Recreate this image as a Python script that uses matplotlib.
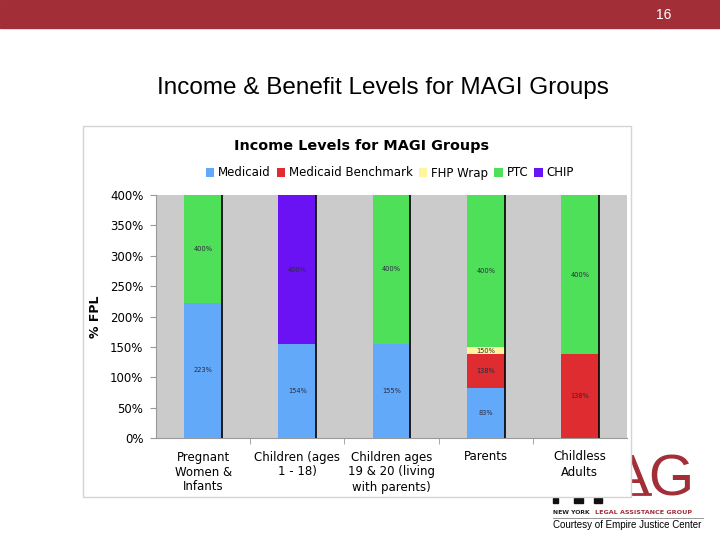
import numpy as np
import matplotlib
matplotlib.use("Agg")
import matplotlib.pyplot as plt
from matplotlib.patches import Rectangle

# Данные графика (% FPL)
categories = ["Pregnant\nWomen &\nInfants", "Children (ages\n1 - 18)",
              "Children ages\n19 & 20 (living\nwith parents)", "Parents",
              "Childless\nAdults"]
series_names = ["Medicaid", "Medicaid Benchmark", "FHP Wrap", "PTC", "CHIP"]
medicaid = [223, 154, 155, 83, 0]
benchmark = [0, 0, 0, 55, 138]
fhp_wrap = [0, 0, 0, 12, 0]
ptc = [177, 0, 245, 250, 262]
chip = [0, 246, 0, 0, 0]
y_ticks = [0, 50, 100, 150, 200, 250, 300, 350, 400]

colors = ["#63A9FA", "#DE2C30", "#FFF59C", "#4FE05A", "#6A12F4"]
slide_red = "#A22E38"

fig = plt.figure(figsize=(7.2, 5.4), dpi=100)

# Фон слайда (координаты в пикселях)
bg = fig.add_axes([0, 0, 1, 1])
bg.set_xlim(0, 720)
bg.set_ylim(540, 0)
bg.axis("off")
bg.add_patch(Rectangle((0, 0), 720, 28, color=slide_red, zorder=1))
bg.text(664, 15, "16", color="white", fontsize=10, fontfamily="Liberation Sans",
        ha="center", va="center", zorder=2)
bg.text(383, 88, "Income & Benefit Levels for MAGI Groups", fontsize=17.5,
        fontfamily="Liberation Sans", ha="center", va="center", zorder=2)

# Логотип NYLAG (буквы NY почти скрыты рамкой графика)
for x0, w in [(553, 5), (574, 9), (594, 8)]:
    bg.add_patch(Rectangle((x0, 498), w, 5, color="#111111", zorder=1))
bg.text(611, 496, "AG", fontsize=42, color=slide_red,
        fontfamily="Liberation Sans", ha="left", va="baseline", zorder=1)
bg.plot([613, 650], [494, 494], color=slide_red, lw=2, zorder=1)
bg.text(553, 512, "NEW YORK", fontsize=4.4, fontweight="bold", color="#222222",
        fontfamily="DejaVu Sans", ha="left", va="center", zorder=2)
bg.text(595, 512, "LEGAL ASSISTANCE GROUP", fontsize=4.6, fontweight="bold",
        color=slide_red, fontfamily="DejaVu Sans", ha="left", va="center", zorder=2)
bg.plot([553, 703], [518, 518], color="#888888", lw=0.6, zorder=2)
bg.text(553, 525, "Courtesy of Empire Justice Center", fontsize=7,
        fontfamily="Liberation Sans", ha="left", va="center", zorder=2)

# Рамка встроенного графика
bg.add_patch(Rectangle((83, 126), 548, 371, facecolor="white",
                       edgecolor="#D4D4D4", lw=1, zorder=3))
bg.text(361, 146, "Income Levels for MAGI Groups", fontsize=10.4,
        fontweight="bold", fontfamily="DejaVu Sans", ha="center", va="center",
        zorder=4)

# Основной график
ax = fig.add_axes([156 / 720, 1 - 438 / 540, 471 / 720, 243 / 540])
ax.set_zorder(5)
ax.set_facecolor("#CBCBCB")

x = np.arange(len(categories))
width = 0.4
stack = np.array([medicaid, benchmark, fhp_wrap, ptc, chip], dtype=float)
bottoms = np.vstack([np.zeros(len(categories)), np.cumsum(stack, axis=0)[:-1]])
handles = []
for i, name in enumerate(series_names):
    h = ax.bar(x, stack[i], width, bottom=bottoms[i], color=colors[i],
               label=name, zorder=2)
    handles.append(h)
    for j in range(len(categories)):
        if stack[i, j] > 0:
            top = bottoms[i, j] + stack[i, j]
            ax.text(x[j], bottoms[i, j] + stack[i, j] / 2, f"{int(top)}%",
                    fontsize=4.8, color="#2a2a40", ha="center", va="center",
                    zorder=3)

totals = stack.sum(axis=0)
ax.vlines(x + width / 2, 0, totals, color="black", lw=1.2, zorder=3)

ax.set_xlim(-0.5, len(categories) - 0.5)
ax.set_ylim(0, 400)
ax.set_yticks(y_ticks)
ax.set_yticklabels([f"{v}%" for v in y_ticks], fontsize=8.5)
ax.set_xticks(x)
ax.set_xticklabels(categories, fontsize=8.5, linespacing=1.2)
ax.set_xticks(np.arange(0.5, len(categories) - 0.5), minor=True)
ax.tick_params(axis="x", which="major", length=0, pad=9)
ax.tick_params(axis="x", which="minor", length=4, color="#999999")
ax.tick_params(axis="y", length=4, color="#999999", pad=5)
ax.set_ylabel("% FPL", fontsize=9, fontweight="bold", labelpad=6)
for side in ["top", "right"]:
    ax.spines[side].set_visible(False)
for side in ["left", "bottom"]:
    ax.spines[side].set_color("#999999")
    ax.spines[side].set_linewidth(0.8)

ax.legend(handles=handles, loc="center", ncol=5, frameon=False,
          bbox_to_anchor=(390 / 720, 1 - 173 / 540),
          bbox_transform=fig.transFigure, fontsize=8.5, handlelength=0.7,
          handleheight=0.7, handletextpad=0.35, columnspacing=0.5)

fig.savefig("out.png", dpi=100)
